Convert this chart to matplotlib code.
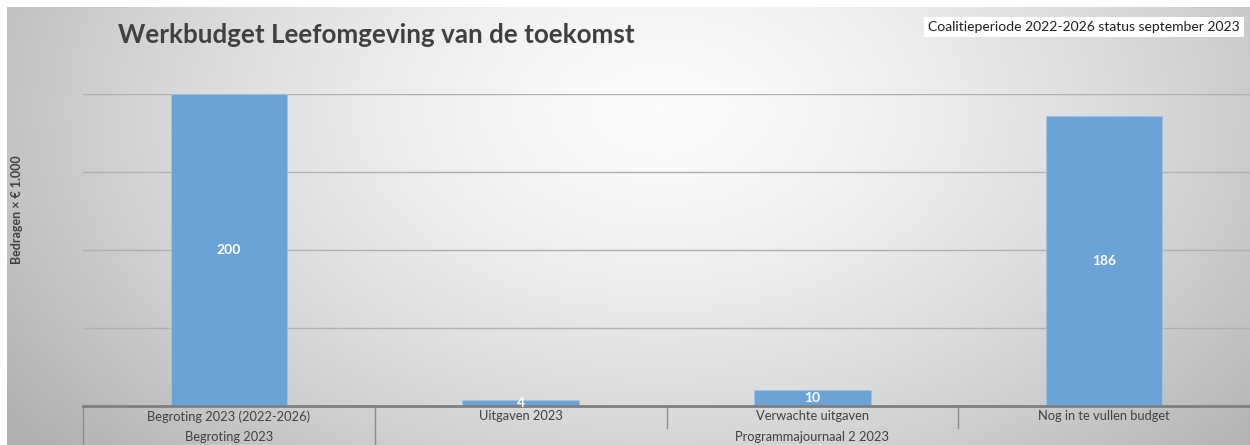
import matplotlib
matplotlib.use("Agg")
import matplotlib.pyplot as plt
import matplotlib.transforms as mtransforms
import numpy as np

# data
categories = ["Begroting 2023 (2022-2026)", "Uitgaven 2023", "Verwachte uitgaven", "Nog in te vullen budget"]
values = [200, 4, 10, 186]
groups = ["Begroting 2023", "Programmajournaal 2 2023"]
group_sizes = [1, 3]

title = "Werkbudget Leefomgeving van de toekomst"
subtitle = "Coalitieperiode 2022-2026 status september 2023"
ylabel = "Bedragen × € 1.000"

plt.rcParams.update({"font.family": ["Lato", "DejaVu Sans"]})

fig = plt.figure(figsize=(12.5, 4.45), dpi=100)

# background gradient (radial, light centre, grey edges)
bg = fig.add_axes([0, 0, 1, 1], zorder=-10)
h, w = 445, 1250
yy, xx = np.mgrid[0:h, 0:w]
r = np.sqrt(((xx - 660) / 640.0) ** 2 + ((yy - 110) / 420.0) ** 2)
shade = 0.985 - 0.21 * np.clip(r, 0, 1.25) ** 1.5
img = np.dstack([shade, shade, shade])
img[:7, :, :] = 1.0
img[:, :7, :] = 1.0
bg.imshow(img, aspect="auto", extent=[0, 1, 0, 1], origin="upper")
bg.axis("off")

ax = fig.add_axes([83 / 1250, 39 / 445, 1 - 83 / 1250, 312 / 445])
ax.patch.set_alpha(0)
x = np.arange(len(categories))
bars = ax.bar(x, values, width=0.4, color="#6ca3d7", edgecolor="#9cc3e6", linewidth=0.6, zorder=3)
ax.set_xlim(-0.5, len(categories) - 0.5)
ax.set_ylim(0, 200)
ax.set_yticks([0, 50, 100, 150, 200])
ax.yaxis.grid(True, color="#b0b0b0", linewidth=1.0, zorder=0)
ax.tick_params(axis="y", left=False, labelleft=False)
for s in ["top", "right", "left"]:
    ax.spines[s].set_visible(False)
ax.spines["bottom"].set_color("#7f7f7f")
ax.spines["bottom"].set_linewidth(2)
ax.spines["bottom"].set_zorder(4)

for b, v in zip(bars, values):
    ax.text(b.get_x() + b.get_width() / 2, v / 2, str(v), ha="center", va="center",
            color="white", fontsize=10, fontweight="bold", zorder=5)

ax.set_xticks(x)
ax.set_xticklabels(categories, fontsize=9.3, color="#404040")
ax.tick_params(axis="x", length=0, pad=3)

# second level category labels and separators
trans = mtransforms.blended_transform_factory(ax.transData, ax.transAxes)
start = -0.5
ax.plot([start, start], [0, -39 / 312], transform=trans, color="#8c8c8c", lw=1, clip_on=False)
for g, n in zip(groups, group_sizes):
    end = start + n
    ax.text((start + end) / 2, -31 / 312, g, transform=trans, ha="center", va="center",
            fontsize=9.3, color="#404040")
    ax.plot([end, end], [0, -39 / 312], transform=trans, color="#8c8c8c", lw=1, clip_on=False)
    for k in range(1, n):
        xs = start + k
        ax.plot([xs, xs], [0, -22 / 312], transform=trans, color="#8c8c8c", lw=1, clip_on=False)
    start = end

fig.text(17 / 1250, 1 - 210 / 445, ylabel, rotation=90, fontsize=9, fontweight="bold",
         color="#404040", ha="center", va="center")

fig.text(118 / 1250, 1 - 35 / 445, title, fontsize=18.7, fontweight="bold", color="#404040",
         ha="left", va="center")
fig.text(1240 / 1250, 1 - 27 / 445, subtitle, fontsize=10, color="#202020", ha="right", va="center",
         bbox=dict(facecolor="white", edgecolor="none", pad=3))

fig.savefig("out.png", dpi=100)
